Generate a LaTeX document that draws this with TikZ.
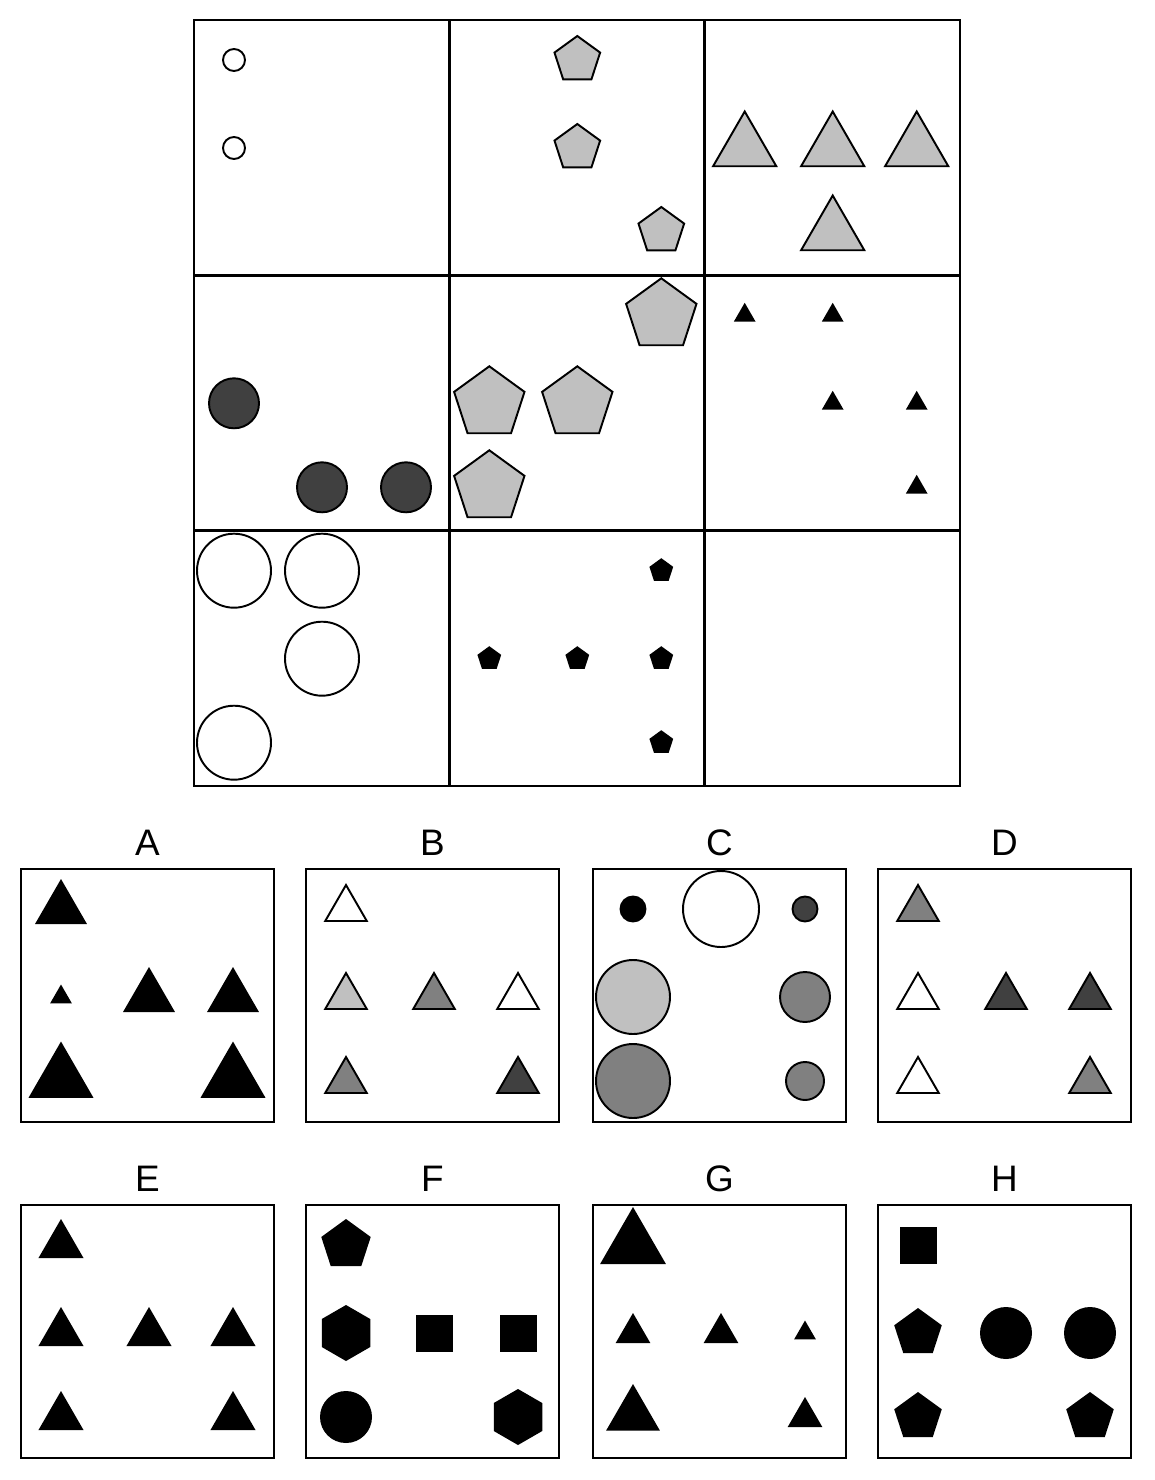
\documentclass[tikz,border=0pt]{standalone}
\usepackage{fontspec}
\setmainfont{Liberation Sans}
\usepackage{tikz}
\usetikzlibrary{calc}
\usepackage{xcolor}
\definecolor{puzlight}{HTML}{C0C0C0}
\definecolor{puzmid}{HTML}{808080}
\definecolor{puzdark}{HTML}{404040}

% shapes about a centre: [style]{x,y}{radius}
\newcommand{\puztri}[3][]{\path[#1] (#2) +(-90:#3) -- +(30:#3) -- +(150:#3) -- cycle;}
\newcommand{\puzpent}[3][]{\path[#1] (#2) +(-90:#3) -- +(-18:#3) -- +(54:#3) -- +(126:#3) -- +(198:#3) -- cycle;}
\newcommand{\puzhex}[3][]{\path[#1] (#2) +(-90:#3) -- +(-30:#3) -- +(30:#3) -- +(90:#3) -- +(150:#3) -- +(210:#3) -- cycle;}
\newcommand{\puzsq}[3][]{\path[#1] (#2) +(-#3,-#3) rectangle +(#3,#3);}
\newcommand{\puzcirc}[3][]{\path[#1] (#2) circle[radius=#3];}

\begin{document}
\begin{tikzpicture}[
  x=0.02cm, y=-0.02cm,
  gridline/.style={line width=1.4pt},
  boxline/.style={line width=1.2pt},
  outl/.style={draw=black, line width=1.1pt, fill=#1},
  blk/.style={fill=black},
  lbl/.style={font=\fontsize{21}{21}\selectfont, inner sep=0pt}
]
\useasboundingbox (0,0) rectangle (1154,1480);

% === Matrix grid (3 x 3 cells of 255.33) ===
\draw[gridline] (194,20) rectangle (960,786);
\draw[gridline] (449.3,20) -- (449.3,786);
\draw[gridline] (704.7,20) -- (704.7,786);
\draw[gridline] (194,275.3) -- (960,275.3);
\draw[gridline] (194,530.7) -- (960,530.7);

% sub-positions inside a cell: 40, 128, 212

% --- row 1 ---
\begin{scope}[shift={(194,20)}]
  \puzcirc[outl=white]{40,40}{11}
  \puzcirc[outl=white]{40,128}{11}
\end{scope}
\begin{scope}[shift={(449.3,20)}]
  \puzpent[outl=puzlight]{128,40}{24}
  \puzpent[outl=puzlight]{128,128}{24}
  \puzpent[outl=puzlight]{212,211}{24}
\end{scope}
\begin{scope}[shift={(704.7,20)}]
  \foreach \px/\py in {40/128, 128/128, 212/128, 128/212}
    {\puztri[outl=puzlight]{\px,\py}{36.5}}
\end{scope}

% --- row 2 ---
\begin{scope}[shift={(194,275.3)}]
  \foreach \px/\py in {40/128, 128/212, 212/212}
    {\puzcirc[outl=puzdark]{\px,\py}{25}}
\end{scope}
\begin{scope}[shift={(449.3,275.3)}]
  \foreach \px/\py in {212/40, 40/128, 128/128, 40/212}
    {\puzpent[outl=puzlight]{\px,\py}{37}}
\end{scope}
\begin{scope}[shift={(704.7,275.3)}]
  \foreach \px/\py in {40/40, 128/40, 128/128, 212/128, 212/212}
    {\puztri[blk]{\px,\py}{12.5}}
\end{scope}

% --- row 3 ---
\begin{scope}[shift={(194,530.7)}]
  \foreach \px/\py in {40/40, 128/40, 128/128, 40/212}
    {\puzcirc[outl=white]{\px,\py}{37}}
\end{scope}
\begin{scope}[shift={(449.3,530.7)}]
  \foreach \px/\py in {212/40, 40/128, 128/128, 212/128, 212/212}
    {\puzpent[blk]{\px,\py}{12.5}}
\end{scope}

% === Answer boxes ===
\foreach \name/\bx/\by in {A/21/869, B/306/869, C/593/869, D/878/869,
                           E/21/1205, F/306/1205, G/593/1205, H/878/1205} {
  \draw[boxline] (\bx,\by) rectangle ++(253,253);
  \node[lbl] (lbl\name) at ($(\bx,\by)+(126.5,-26)$) {\name};
}

% A
\begin{scope}[shift={(21,869)}]
  \puztri[blk]{40,40}{30}
  \puztri[blk]{40,128}{12.5}
  \puztri[blk]{128,128}{30}
  \puztri[blk]{212,128}{30}
  \puztri[blk]{40,210}{37.5}
  \puztri[blk]{212,210}{37.5}
\end{scope}
% B
\begin{scope}[shift={(306,869)}]
  \puztri[outl=white]{40,40}{24}
  \puztri[outl=puzlight]{40,128}{24}
  \puztri[outl=puzmid]{128,128}{24}
  \puztri[outl=white]{212,128}{24}
  \puztri[outl=puzmid]{40,212}{24}
  \puztri[outl=puzdark]{212,212}{24}
\end{scope}
% C
\begin{scope}[shift={(593,869)}]
  \puzcirc[outl=black]{40,40}{12.5}
  \puzcirc[outl=white]{128,40}{38}
  \puzcirc[outl=puzdark]{212,40}{12.5}
  \puzcirc[outl=puzlight]{40,128}{37}
  \puzcirc[outl=puzmid]{212,128}{25}
  \puzcirc[outl=puzmid]{40,212}{37}
  \puzcirc[outl=puzmid]{212,212}{19}
\end{scope}
% D
\begin{scope}[shift={(878,869)}]
  \puztri[outl=puzmid]{40,40}{24}
  \puztri[outl=white]{40,128}{24}
  \puztri[outl=puzdark]{128,128}{24}
  \puztri[outl=puzdark]{212,128}{24}
  \puztri[outl=white]{40,212}{24}
  \puztri[outl=puzmid]{212,212}{24}
\end{scope}
% E
\begin{scope}[shift={(21,1205)}]
  \foreach \px/\py in {40/40, 40/128, 128/128, 212/128, 40/212, 212/212}
    {\puztri[blk]{\px,\py}{26}}
\end{scope}
% F
\begin{scope}[shift={(306,1205)}]
  \puzpent[blk]{40,40}{26}
  \puzhex[blk]{40,128}{28}
  \puzsq[blk]{128,128}{18.5}
  \puzsq[blk]{212,128}{18.5}
  \puzcirc[blk]{40,212}{26}
  \puzhex[blk]{212,212}{28}
\end{scope}
% G
\begin{scope}[shift={(593,1205)}]
  \puztri[blk]{40,40}{38}
  \puztri[blk]{40,128}{20}
  \puztri[blk]{128,128}{20}
  \puztri[blk]{212,128}{12.5}
  \puztri[blk]{40,210}{31}
  \puztri[blk]{212,212}{20}
\end{scope}
% H
\begin{scope}[shift={(878,1205)}]
  \puzsq[blk]{40,40}{18.5}
  \puzpent[blk]{40,128}{25}
  \puzcirc[blk]{128,128}{26}
  \puzcirc[blk]{212,128}{26}
  \puzpent[blk]{40,212}{25}
  \puzpent[blk]{212,212}{25}
\end{scope}

\end{tikzpicture}
\end{document}
